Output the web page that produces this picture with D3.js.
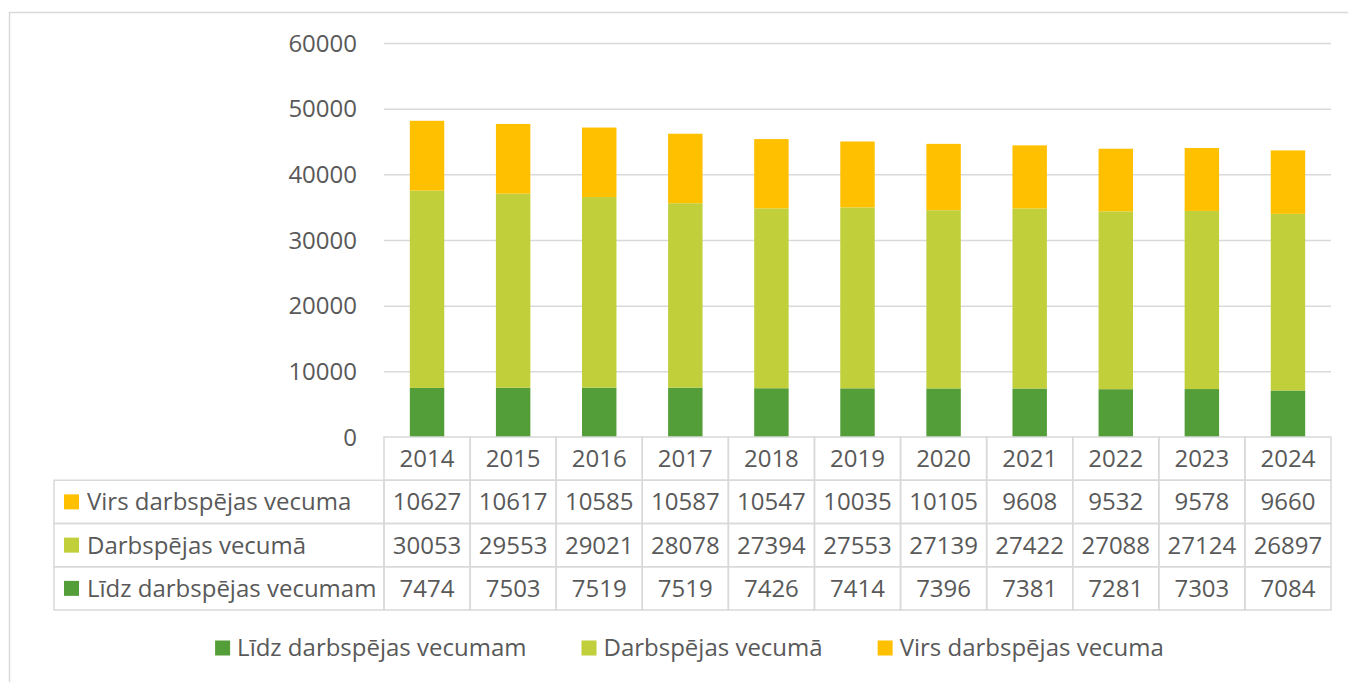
<!DOCTYPE html>
<meta charset="utf-8">
<html>
<head>
  <script src="https://d3js.org/d3.v7.min.js" charset="utf-8"></script>
  <style>
    body { margin: 0; background: #fff; }
    text { font-family: 'Open Sans', sans-serif; font-size: 24px; fill: #595959; }
    .y-axis path { stroke-width: 0; }
    .y-axis line { stroke: #d9d9d9; stroke-width: 1.5; }
    .cell { fill: none; stroke: #d9d9d9; stroke-width: 1.5; }
  </style>
</head>
<body>
  <script>
    // Data
    var years = ["2014", "2015", "2016", "2017", "2018", "2019", "2020", "2021", "2022", "2023", "2024"];
    var lidz = [7474, 7503, 7519, 7519, 7426, 7414, 7396, 7381, 7281, 7303, 7084];
    var darb = [30053, 29553, 29021, 28078, 27394, 27553, 27139, 27422, 27088, 27124, 26897];
    var virs = [10627, 10617, 10585, 10587, 10547, 10035, 10105, 9608, 9532, 9578, 9660];
    var seriesNames = ["Līdz darbspējas vecumam", "Darbspējas vecumā", "Virs darbspējas vecuma"];
    var colors = ["#549e39", "#c0cf3a", "#ffc000"];
    var yTicks = [0, 10000, 20000, 30000, 40000, 50000, 60000];

    var W = 1348, H = 682;
    var plotLeft = 384, plotRight = 1331, plotTop = 43, base = 437;
    var rowH = 43.25, headLeft = 54;

    var svg = d3.select("body").append("svg")
      .attr("width", W).attr("height", H);

    // outer chart border
    svg.append("rect")
      .attr("x", 9.5).attr("y", 12.5)
      .attr("width", 1400).attr("height", 700)
      .attr("fill", "none").attr("stroke", "#d9d9d9").attr("stroke-width", 1.5);

    var rows = years.map((y, i) => ({ year: y, s0: lidz[i], s1: darb[i], s2: virs[i] }));

    var x = d3.scaleBand().domain(years).range([plotLeft, plotRight]).paddingInner(0.6).paddingOuter(0.3);
    var xCell = d3.scaleBand().domain(years).range([plotLeft, plotRight]);
    var y = d3.scaleLinear().domain([0, 60000]).range([base, plotTop]);

    // Y axis with gridlines
    var yAxis = svg.append("g")
      .attr("class", "y-axis")
      .attr("transform", `translate(${plotLeft}, 0)`)
      .call(d3.axisLeft(y).tickValues(yTicks).tickSize(-(plotRight - plotLeft)).tickPadding(27).tickFormat(d3.format("d")));
    yAxis.selectAll("text").attr("dy", "0.34em").style("font-size", "24px").style("fill", "#595959")
      .style("font-family", "'Open Sans', sans-serif");
    yAxis.selectAll(".tick").filter(d => d === 0).select("line").remove();

    // Stacked bars
    var stack = d3.stack().keys(["s0", "s1", "s2"]);
    var layers = stack(rows);
    svg.selectAll(".layer")
      .data(layers)
      .enter().append("g")
      .attr("fill", (d, i) => colors[i])
      .selectAll("rect")
      .data(d => d)
      .enter().append("rect")
      .attr("x", d => x(d.data.year))
      .attr("width", x.bandwidth())
      .attr("y", d => y(d[1]))
      .attr("height", d => y(d[0]) - y(d[1]));

    // Data table
    var table = svg.append("g");
    // header row (years)
    years.forEach(yr => {
      table.append("rect").attr("class", "cell")
        .attr("x", xCell(yr)).attr("y", base).attr("width", xCell.bandwidth()).attr("height", rowH);
      table.append("text")
        .attr("x", xCell(yr) + xCell.bandwidth() / 2).attr("y", base + rowH / 2)
        .attr("dy", "0.35em").attr("text-anchor", "middle").text(yr);
    });
    var tableRows = [
      { name: seriesNames[2], color: colors[2], vals: virs },
      { name: seriesNames[1], color: colors[1], vals: darb },
      { name: seriesNames[0], color: colors[0], vals: lidz }
    ];
    tableRows.forEach((r, ri) => {
      var ry = base + rowH * (ri + 1);
      table.append("rect").attr("class", "cell")
        .attr("x", headLeft).attr("y", ry).attr("width", plotLeft - headLeft).attr("height", rowH);
      table.append("rect")
        .attr("x", 64).attr("y", ry + rowH / 2 - 7.5).attr("width", 15).attr("height", 15).attr("fill", r.color);
      table.append("text").attr("x", 87).attr("y", ry + rowH / 2).attr("dy", "0.35em").text(r.name);
      r.vals.forEach((v, i) => {
        table.append("rect").attr("class", "cell")
          .attr("x", xCell(years[i])).attr("y", ry).attr("width", xCell.bandwidth()).attr("height", rowH);
        table.append("text")
          .attr("x", xCell(years[i]) + xCell.bandwidth() / 2).attr("y", ry + rowH / 2)
          .attr("dy", "0.35em").attr("text-anchor", "middle").text(v);
      });
    });

    // Legend
    var legend = svg.append("g");
    var items = seriesNames.map((n, i) => ({ name: n, color: colors[i] }));
    var lx = 0, legY = 648, gap = 55;
    var groups = legend.selectAll("g").data(items).enter().append("g");
    groups.append("rect").attr("width", 15).attr("height", 15).attr("y", legY - 7.5).attr("fill", d => d.color);
    groups.append("text").attr("x", 22).attr("y", legY).attr("dy", "0.35em").text(d => d.name);
    groups.each(function () {
      var g = d3.select(this);
      g.attr("transform", `translate(${lx}, 0)`);
      lx += 22 + g.select("text").node().getComputedTextLength() + gap;
    });
    var total = lx - gap;
    legend.attr("transform", `translate(${(headLeft + plotRight) / 2 - total / 2 - 3}, 0)`);
  </script>
</body>
</html>
